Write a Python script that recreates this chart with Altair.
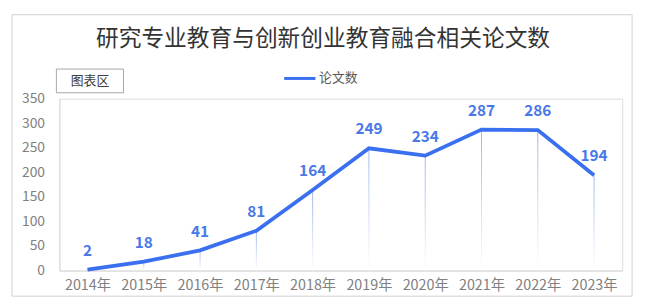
import altair as alt
import pandas as pd

years = ["2014年", "2015年", "2016年", "2017年", "2018年", "2019年", "2020年", "2021年", "2022年", "2023年"]
values = [2, 18, 41, 81, 164, 249, 234, 287, 286, 194]
series_name = "论文数"
title_text = "研究专业教育与创新创业教育融合相关论文数"
y_ticks = [0, 50, 100, 150, 200, 250, 300, 350]

df = pd.DataFrame({"year": years, "value": values, "series": [series_name] * len(years)})

FONT = "Noto Sans CJK SC"
BLUE = "#3a6ff0"
GRAY = "#808080"

xenc = alt.X("year:O", sort=years, title=None,
             scale=alt.Scale(type="point", padding=0.5),
             axis=alt.Axis(labelAngle=0, labelColor=GRAY, labelFontSize=14.5, labelFont=FONT,
                           domainColor="#d9d9d9", ticks=False, labelPadding=8, labelOverlap=False))
yenc = alt.Y("value:Q", scale=alt.Scale(domain=[0, 350], nice=False), title=None,
             axis=alt.Axis(values=y_ticks, labelColor=GRAY, labelFontSize=14, labelFont=FONT,
                           domainColor="#d9d9d9", ticks=False, grid=False, labelPadding=15,
                           labelOverlap=False))

base = alt.Chart(df)

drops = base.mark_bar(size=1, color=alt.Gradient(
    gradient="linear", x1=0, y1=0, x2=0, y2=1,
    stops=[alt.GradientStop(color="#9db3ea", offset=0), alt.GradientStop(color="#ffffff", offset=1)])
).encode(x=xenc, y=yenc, y2=alt.datum(0))

line = base.mark_line(strokeWidth=3.8, strokeJoin="miter").encode(
    x=xenc,
    y=yenc,
    color=alt.Color("series:N", scale=alt.Scale(range=[BLUE]),
                    legend=alt.Legend(title=None, orient="none", legendX=226, legendY=-38,
                                      symbolType="stroke", symbolSize=1000, symbolStrokeWidth=3,
                                      labelFont=FONT, labelFontSize=13, labelColor="#595959",
                                      labelOffset=2)),
)

labels = base.mark_text(dy=-19, fontSize=15.5, fontWeight="bold", font=FONT, color="#4a78e6").encode(
    x=xenc, y=yenc, text="value:Q",
)

box_df = pd.DataFrame({"t": ["图表区"], "title": [title_text]})
box = alt.Chart(box_df).mark_rect(fill="white", stroke="#a6a6a6", strokeWidth=1).encode(
    x=alt.value(-3), x2=alt.value(65), y=alt.value(-30), y2=alt.value(-6))
box_text = alt.Chart(box_df).mark_text(font=FONT, fontSize=13, color="#404040").encode(
    x=alt.value(31), y=alt.value(-18), text="t:N")
title_mark = alt.Chart(box_df).mark_text(font=FONT, fontSize=23, color="#333333").encode(
    x=alt.value(267), y=alt.value(-60), text="title:N")

frame = alt.Chart(box_df).mark_rect(fill=None, stroke="#d0d0d0", strokeWidth=1).encode(
    x=alt.value(-48), x2=alt.value(580), y=alt.value(-85), y2=alt.value(200))

chart = alt.layer(frame, drops, line, labels, box, box_text, title_mark).properties(
    width=570, height=174,
    padding={"left": 52, "top": 90, "right": 17, "bottom": 26},
    autosize=alt.AutoSizeParams(type="none"),
).configure_view(stroke=None).configure(background="white")

chart.save("out.html", embed_options={"renderer": "svg", "actions": False})
